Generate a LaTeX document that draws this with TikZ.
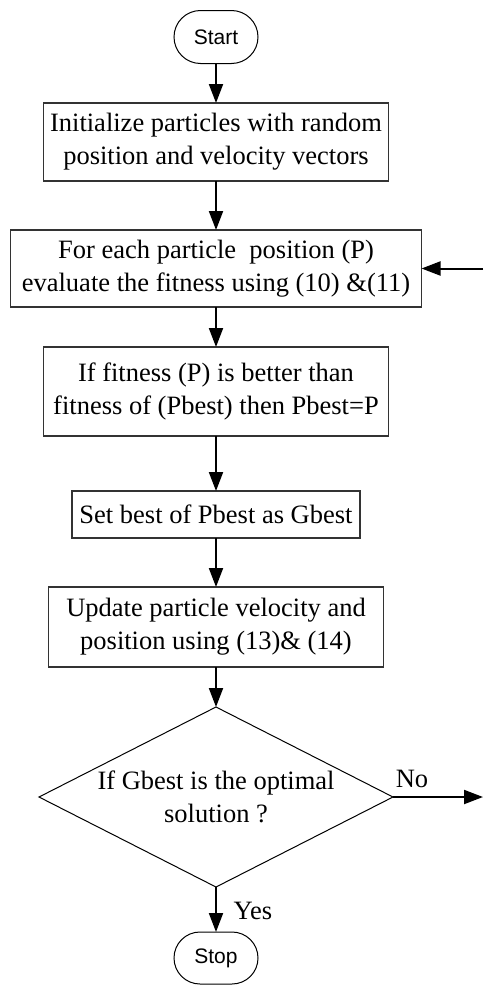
\documentclass[tikz,border=0pt]{standalone}
\usepackage{fontspec}
\setmainfont{Liberation Serif}
\newfontfamily\termfont{Liberation Sans}
\usetikzlibrary{shapes.geometric,shapes.misc,arrows.meta}

\begin{document}
\begin{tikzpicture}[x=1pt,y=-1pt,
  every node/.style={inner sep=0pt, outer sep=0pt, align=center, font=\fontsize{26.5}{33}\selectfont},
  term/.style={draw, line width=1pt, rounded rectangle, minimum width=84pt, minimum height=53pt, font=\termfont\fontsize{21}{25}\selectfont},
  proc/.style={draw=black!80, line width=1.2pt, rectangle},
  decision/.style={draw, line width=1pt, diamond, aspect=1.97, inner sep=-4pt, minimum width=354pt, minimum height=180pt},
  flow/.style={line width=2pt, -{Triangle[length=19pt,width=14pt]}}]
\useasboundingbox (0,0) rectangle (483,985);

\node[term] (start) at (216,37) {Start};
\node[proc, minimum width=345pt, minimum height=78pt] (init) at (216,142) {Initialize particles with random\\position and velocity vectors};
\node[proc, minimum width=411pt, minimum height=77pt] (eval) at (216,268.5) {For each particle\ \ position (P)\\evaluate the fitness using (10) \&(11)};
\node[proc, minimum width=345pt, minimum height=89pt] (pbest) at (216,391.5) {If fitness (P) is better than\\fitness of (Pbest) then Pbest=P};
\node[proc, minimum width=288pt, minimum height=47pt] (gbest) at (216,514.5) {Set best of Pbest as Gbest};
\node[proc, minimum width=335pt, minimum height=80pt] (update) at (216,627) {Update particle velocity and\\position using (13)\& (14)};
\node[decision] (check) at (216,797) {If Gbest is the optimal\\solution ?};
\node[term, minimum height=52pt] (stop) at (216,958) {Stop};
\coordinate (noend) at (483,797);
\coordinate (loopin) at (483,268.5);
\node (nolbl) at (412,779) {No};
\node (yeslbl) at (253,911) {Yes};

\draw[flow] (start) -- (init);
\draw[flow] (init) -- (eval);
\draw[flow] (eval) -- (pbest);
\draw[flow] (pbest) -- (gbest);
\draw[flow] (gbest) -- (update);
\draw[flow] (update) -- (check);
\draw[flow] (check) -- (stop);
\draw[flow] (check.east) -- (noend);
\draw[flow] (loopin) -- (eval.east);
\end{tikzpicture}
\end{document}
